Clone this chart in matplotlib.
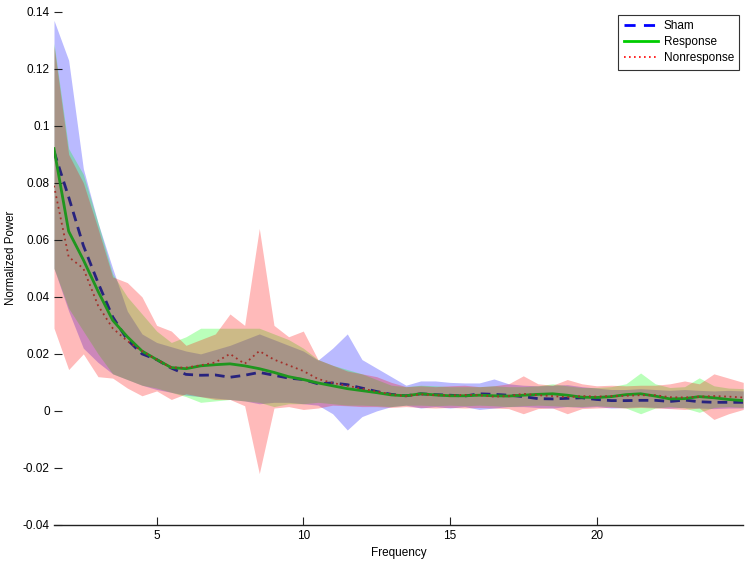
import numpy as np
import matplotlib
matplotlib.use("Agg")
import matplotlib.pyplot as plt
from matplotlib.lines import Line2D

plt.rcParams['font.family'] = ['Liberation Sans', 'DejaVu Sans']

freq = np.arange(1.5, 25.01, 0.5)

sham_mean = [0.091, 0.075, 0.058, 0.045, 0.033, 0.025, 0.020, 0.018, 0.015, 0.0128,
             0.0125, 0.0126, 0.0118, 0.0125, 0.0135, 0.0125, 0.0115, 0.011, 0.0095, 0.0098,
             0.0092, 0.008, 0.0068, 0.0058, 0.0053, 0.006, 0.0057, 0.0055, 0.0052, 0.006,
             0.0058, 0.0055, 0.005, 0.0043, 0.0042, 0.0044, 0.0046, 0.004, 0.0036, 0.0036,
             0.0037, 0.0037, 0.0033, 0.0038, 0.0032, 0.003, 0.003, 0.003]
resp_mean = [0.092, 0.063, 0.053, 0.042, 0.0318, 0.026, 0.021, 0.018, 0.0152, 0.0148,
             0.0158, 0.0162, 0.0165, 0.0158, 0.0148, 0.0135, 0.012, 0.011, 0.0098, 0.0088,
             0.0078, 0.0071, 0.0064, 0.0056, 0.0053, 0.006, 0.0056, 0.0053, 0.0053, 0.0055,
             0.0053, 0.0052, 0.0055, 0.0058, 0.006, 0.0055, 0.0048, 0.0047, 0.005, 0.0057,
             0.006, 0.0052, 0.0042, 0.0043, 0.005, 0.0046, 0.004, 0.0036]
nonr_mean = [0.079, 0.054, 0.050, 0.037, 0.029, 0.0245, 0.021, 0.018, 0.0152, 0.0152,
             0.016, 0.017, 0.020, 0.0165, 0.021, 0.018, 0.016, 0.014, 0.0112, 0.0098,
             0.0088, 0.0078, 0.0068, 0.0058, 0.0052, 0.0058, 0.0055, 0.0054, 0.0056, 0.0055,
             0.005, 0.0052, 0.006, 0.0055, 0.0052, 0.0048, 0.0052, 0.005, 0.0052, 0.0053,
             0.0055, 0.0055, 0.0048, 0.0047, 0.005, 0.0052, 0.005, 0.0047]

sham_upper = [0.137, 0.123, 0.085, 0.066, 0.050, 0.035, 0.027, 0.024, 0.0225, 0.021,
              0.020, 0.0215, 0.023, 0.025, 0.027, 0.025, 0.023, 0.021, 0.0178, 0.022,
              0.027, 0.018, 0.015, 0.012, 0.009, 0.0105, 0.0105, 0.010, 0.0098, 0.0098,
              0.0112, 0.0095, 0.009, 0.0088, 0.009, 0.0092, 0.0085, 0.008, 0.0075, 0.0075,
              0.0078, 0.0075, 0.0072, 0.0075, 0.0072, 0.007, 0.0072, 0.007]
sham_lower = [0.050, 0.035, 0.022, 0.017, 0.013, 0.011, 0.009, 0.0075, 0.0065, 0.0055,
              0.005, 0.0045, 0.004, 0.0035, 0.0025, 0.003, 0.003, 0.0025, 0.002, -0.001,
              -0.0067, -0.002, 0.0, 0.0015, 0.002, 0.001, 0.0015, 0.001, 0.0015, 0.0005,
              0.001, 0.0015, 0.0015, 0.0012, 0.001, 0.0015, 0.0012, 0.0015, 0.001, 0.0012,
              0.0015, 0.0012, 0.001, 0.0012, 0.001, 0.0008, 0.001, 0.001]
resp_upper = [0.129, 0.092, 0.083, 0.066, 0.048, 0.040, 0.034, 0.028, 0.024, 0.026,
              0.029, 0.029, 0.029, 0.029, 0.029, 0.027, 0.025, 0.022, 0.018, 0.016,
              0.0145, 0.013, 0.011, 0.009, 0.0085, 0.009, 0.0088, 0.0085, 0.0085, 0.0085,
              0.0088, 0.0085, 0.0085, 0.0088, 0.0095, 0.0088, 0.0082, 0.0082, 0.0085, 0.0095,
              0.0133, 0.0095, 0.0082, 0.0085, 0.0116, 0.0088, 0.008, 0.0078]
resp_lower = [0.050, 0.036, 0.028, 0.020, 0.013, 0.011, 0.009, 0.008, 0.0065, 0.005,
              0.003, 0.0035, 0.004, 0.0035, 0.003, 0.0015, 0.0025, 0.0025, 0.003, 0.0025,
              0.002, 0.002, 0.0018, 0.0015, 0.002, 0.002, 0.0018, 0.002, 0.0018, 0.002,
              0.0018, 0.0015, 0.0018, 0.002, 0.0018, 0.0015, 0.0015, 0.0018, 0.0015, 0.001,
              -0.001, 0.001, 0.0015, 0.001, -0.0005, 0.0012, 0.0015, 0.0012]
nonr_upper = [0.128, 0.090, 0.080, 0.064, 0.047, 0.045, 0.040, 0.030, 0.028, 0.023,
              0.025, 0.027, 0.034, 0.030, 0.064, 0.030, 0.026, 0.028, 0.018, 0.016,
              0.014, 0.013, 0.012, 0.010, 0.0085, 0.0088, 0.0085, 0.0088, 0.009, 0.0085,
              0.0088, 0.0095, 0.0123, 0.0095, 0.009, 0.011, 0.0095, 0.0088, 0.009, 0.0088,
              0.009, 0.009, 0.0095, 0.0105, 0.0095, 0.013, 0.0115, 0.010]
nonr_lower = [0.029, 0.0145, 0.020, 0.012, 0.0115, 0.008, 0.0053, 0.007, 0.004, 0.006,
              0.005, 0.004, 0.004, 0.0018, -0.022, 0.001, 0.0015, 0.0005, 0.001, 0.002,
              0.0018, 0.0015, 0.0015, 0.0012, 0.0015, 0.0012, 0.001, 0.0012, 0.001, 0.0012,
              0.001, 0.0008, -0.001, 0.0008, 0.001, -0.001, 0.0008, 0.001, 0.0012, 0.001,
              0.0012, 0.001, 0.0008, 0.0005, 0.001, -0.003, -0.001, 0.0005]

labels = ['Sham', 'Response', 'Nonresponse']

fig = plt.figure(figsize=(7.5, 5.62), dpi=100)
ax = fig.add_axes([0.072, 0.066, 0.919, 0.913])

alpha = 0.27
ax.fill_between(freq, sham_lower, sham_upper, color='#0000ff', alpha=alpha, lw=0, zorder=1)
ax.fill_between(freq, resp_lower, resp_upper, color='#00ff00', alpha=alpha, lw=0, zorder=1)
ax.fill_between(freq, nonr_lower, nonr_upper, color='#ff0000', alpha=alpha, lw=0, zorder=1)

ax.plot(freq, sham_mean, color='#28237e', lw=2.0, linestyle=(0, (3.5, 2.2)), zorder=3)
ax.plot(freq, resp_mean, color='#1f961f', lw=2.0, linestyle='-', zorder=3)
ax.plot(freq, nonr_mean, color='#a3302a', lw=1.3, linestyle=(0, (1, 2)), zorder=4)

ax.set_xlim(1.5, 25)
ax.set_ylim(-0.04, 0.14)
ax.set_xticks([5, 10, 15, 20])
ax.set_yticks([-0.04, -0.02, 0, 0.02, 0.04, 0.06, 0.08, 0.1, 0.12, 0.14])
ax.set_yticklabels(['-0.04', '-0.02', '0', '0.02', '0.04', '0.06', '0.08', '0.1', '0.12', '0.14'])

for s in ['top', 'right', 'left']:
    ax.spines[s].set_visible(False)
ax.spines['bottom'].set_color('#222222')
ax.spines['bottom'].set_linewidth(1.0)
ax.tick_params(axis='both', direction='in', length=6, width=0.8, color='#222222', labelsize=8.5, pad=4)
ax.tick_params(axis='y', pad=3)

ax.set_xlabel('Frequency', fontsize=8.5, labelpad=3)
ax.set_ylabel('Normalized Power', fontsize=8.3)
ax.yaxis.set_label_coords(-0.053, 0.52)

handles = [Line2D([], [], color='#0000ff', lw=2.0, linestyle=(0, (4, 3))),
           Line2D([], [], color='#00cc00', lw=2.0, linestyle='-'),
           Line2D([], [], color='#ff0000', lw=1.2, linestyle=(0, (1, 2)))]
leg = ax.legend(handles=handles, labels=labels, loc='upper right', bbox_to_anchor=(0.9945, 0.994),
                borderaxespad=0, fontsize=8.5, frameon=True, fancybox=False, framealpha=1,
                edgecolor='#333333', handlelength=2.9, handletextpad=0.5,
                borderpad=0.45, labelspacing=0.35)
leg.get_frame().set_linewidth(0.8)

fig.savefig('out.png', dpi=100)
